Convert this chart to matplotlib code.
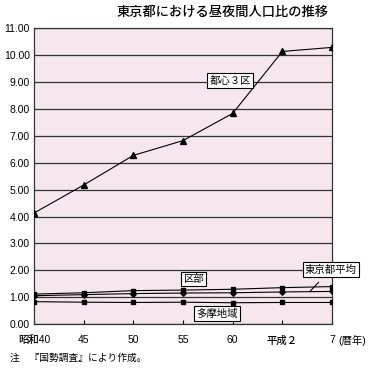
import numpy as np
import matplotlib.pyplot as plt

plt.rcParams['font.family'] = ['Liberation Sans', 'Noto Sans CJK JP', 'DejaVu Sans']

# データ（昼夜間人口比）
years = ['昭和40', '45', '50', '55', '60', '平成２', '7']
toshin3 = [4.13, 5.17, 6.27, 6.82, 7.83, 10.13, 10.28]
kubu = [1.12, 1.17, 1.25, 1.27, 1.30, 1.36, 1.40]
heikin = [1.06, 1.10, 1.14, 1.16, 1.17, 1.20, 1.22]
tama = [0.84, 0.82, 0.81, 0.82, 0.80, 0.81, 0.81]
yticks = np.arange(0, 12, 1)

x = np.arange(len(years))

fig = plt.figure(figsize=(3.71, 3.68), dpi=100)
ax = fig.add_axes([0.0916, 0.1188, 0.8034, 0.8051])
ax.set_facecolor('#f6e7ee')

for y in yticks:
    ax.axhline(y, color='#333333', lw=0.9, zorder=1)

ax.plot(x, toshin3, color='black', lw=0.8, marker='^', ms=4, zorder=3)
ax.plot(x, kubu, color='black', lw=0.8, marker='s', ms=3.5, zorder=3)
ax.plot(x, heikin, color='black', lw=0.8, marker='D', ms=2.8, zorder=3)
ax.plot(x, tama, color='black', lw=0.8, marker='s', ms=3.5, zorder=3)

ax.set_xlim(0, len(years) - 1)
ax.set_ylim(0, 11)
ax.set_yticks(yticks)
ax.set_yticklabels(['%.2f' % v for v in yticks], fontsize=7.5, fontweight='medium')
ax.set_xticks(x)
ax.set_xticklabels(years, fontsize=7.5, fontweight='medium')
ax.tick_params(axis='y', length=0, pad=3)
ax.tick_params(axis='x', direction='in', length=3, pad=8)
for s in ax.spines.values():
    s.set_color('#333333')
    s.set_linewidth(0.9)

box = dict(boxstyle='square,pad=0.2', fc='white', ec='black', lw=0.8)
ax.text(3.95, 9.05, '都心３区', fontsize=7.5, ha='center', va='center', bbox=box, zorder=4)
ax.text(3.21, 1.68, '区部', fontsize=7.5, ha='center', va='center', bbox=box, zorder=4)
ax.text(3.69, 0.40, '多摩地域', fontsize=7.5, ha='center', va='center', bbox=box, zorder=4)
ax.annotate('東京都平均', xy=(5.55, heikin[5] + 0.01), xytext=(5.97, 2.03),
            fontsize=7.5, ha='center', va='center', bbox=box, zorder=4,
            arrowprops=dict(arrowstyle='-', color='black', lw=0.8, shrinkA=5, shrinkB=0),
            annotation_clip=False)

fig.text(0.6, 0.965, '東京都における昼夜間人口比の推移', fontsize=9.5, ha='center', va='center',
         fontweight='medium')
fig.text(0.911, 0.076, '(暦年)', fontsize=7.5, ha='left', va='center')
fig.text(0.027, 0.027, '注　『国勢調査』により作成。', fontsize=7, ha='left', va='center')

fig.savefig('out.png', dpi=100)
